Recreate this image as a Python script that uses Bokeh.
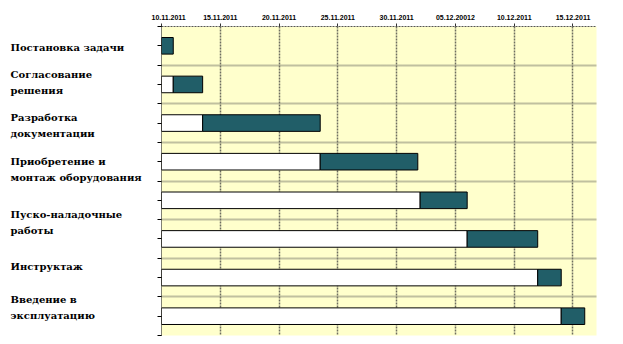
from bokeh.plotting import figure
from bokeh.layouts import row
from bokeh.models import Range1d, FixedTicker, ColumnDataSource
from bokeh.embed import file_html
from bokeh.resources import INLINE
from bokeh.core.properties import value

# ---------------- data ----------------
task_labels = [
    "Постановка задачи",
    "Согласование\nрешения",
    "Разработка\nдокументации",
    " Приобретение и\nмонтаж оборудования",
    "Пуско-наладочные\nработы",
    "Инструктаж",
    "Введение в\nэксплуатацию",
]
# days since 10.11.2011
start_day = [0, 1, 3.5, 13.5, 22, 26, 32, 34]
duration = [1, 2.5, 10, 8.3, 4, 6, 2, 2]
tick_days = [0, 5, 10, 15, 20, 25, 30, 35]
tick_labels = ["10.11.2011", "15.11.2011", "20.11.2011", "25.11.2011",
               "30.11.2011", "05.12.20012", "10.12.2011", "15.12.2011"]

# ---------------- layout ----------------
n_rows = len(start_day)
rows = [i + 0.5 for i in range(n_rows)]
label_rows = [0.54, 1.44, 2.57, 3.71, 5.07, 6.21, 7.28]
LINE_STEP = 0.42          # line spacing of the labels, in row units
yr = Range1d(n_rows, 0)

TOP, BOTTOM = 26, 9
DARK = "#215e68"

src_wait = ColumnDataSource(dict(
    y=[r for r, s in zip(rows, start_day) if s > 0],
    right=[s for s in start_day if s > 0],
))
src_work = ColumnDataSource(dict(
    y=rows,
    left=start_day,
    right=[s + d for s, d in zip(start_day, duration)],
))

line_text, line_y = [], []
for lab, c in zip(task_labels, label_rows):
    parts = lab.split("\n")
    n = len(parts)
    for j, part in enumerate(parts):
        line_text.append(part)
        line_y.append(c + (j - (n - 1) / 2) * LINE_STEP)

p = figure(width=472, height=344, x_range=Range1d(0, 37), y_range=yr,
           output_backend="svg", toolbar_location=None,
           x_axis_location="above", y_axis_location="left",
           min_border_left=10, min_border_right=27,
           min_border_top=TOP, min_border_bottom=BOTTOM,
           background_fill_color="#FFFFCC", border_fill_color="white",
           outline_line_color=None)

p.hbar(y="y", left=0, right="right", height=0.43, source=src_wait,
       fill_color="white", line_color="black", line_width=1)
p.hbar(y="y", left="left", right="right", height=0.43, source=src_work,
       fill_color=DARK, line_color="black", line_width=1)

xa = p.xaxis[0]
xa.ticker = FixedTicker(ticks=tick_days)
xa.major_label_overrides = {d: l for d, l in zip(tick_days, tick_labels)}
xa.major_label_text_font = "Liberation Sans"
xa.major_label_text_font_style = "bold"
xa.major_label_text_font_size = "7px"
xa.major_label_text_color = "black"
xa.major_label_standoff = 4
xa.axis_line_color = "#555555"
xa.axis_line_dash = "2 1"
xa.major_tick_out = 3
xa.major_tick_in = 0
xa.major_tick_line_color = "#333333"
xa.minor_tick_line_color = None

y_ticks = [i * 0.5 for i in range(2 * n_rows + 1)]
ya = p.yaxis[0]
ya.ticker = FixedTicker(ticks=y_ticks)
ya.major_label_overrides = {t: "" for t in y_ticks}
ya.major_label_standoff = 0
ya.major_tick_out = 4
ya.major_tick_in = 0
ya.major_tick_line_color = "black"
ya.axis_line_color = "black"
ya.axis_line_dash = "1 1"
ya.minor_tick_line_color = None

p.xgrid.ticker = FixedTicker(ticks=tick_days)
p.xgrid.grid_line_color = "#6e6e60"
p.xgrid.grid_line_width = 1.5
p.xgrid.grid_line_dash = "2 1"
p.ygrid.ticker = FixedTicker(ticks=list(range(n_rows + 1)))
p.ygrid.grid_line_color = "#808072"
p.ygrid.grid_line_width = 2
p.ygrid.grid_line_dash = "1 1"

# label panel
q = figure(width=151, height=344, x_range=Range1d(0, 151), y_range=yr,
           output_backend="svg", toolbar_location=None,
           x_axis_location=None, y_axis_location=None,
           min_border_left=0, min_border_right=0,
           min_border_top=TOP, min_border_bottom=BOTTOM,
           outline_line_color=None, background_fill_color="white",
           border_fill_color="white")
q.grid.visible = False
q.text(x=[10] * len(line_text), y=line_y, text=line_text,
       text_font=value("DejaVu Serif"),
       text_font_style="bold",
       text_font_size="10px", text_color="black",
       text_align="left", text_baseline="middle")

layout = row(q, p, spacing=0)
open("out.html", "w").write(file_html(layout, INLINE))
